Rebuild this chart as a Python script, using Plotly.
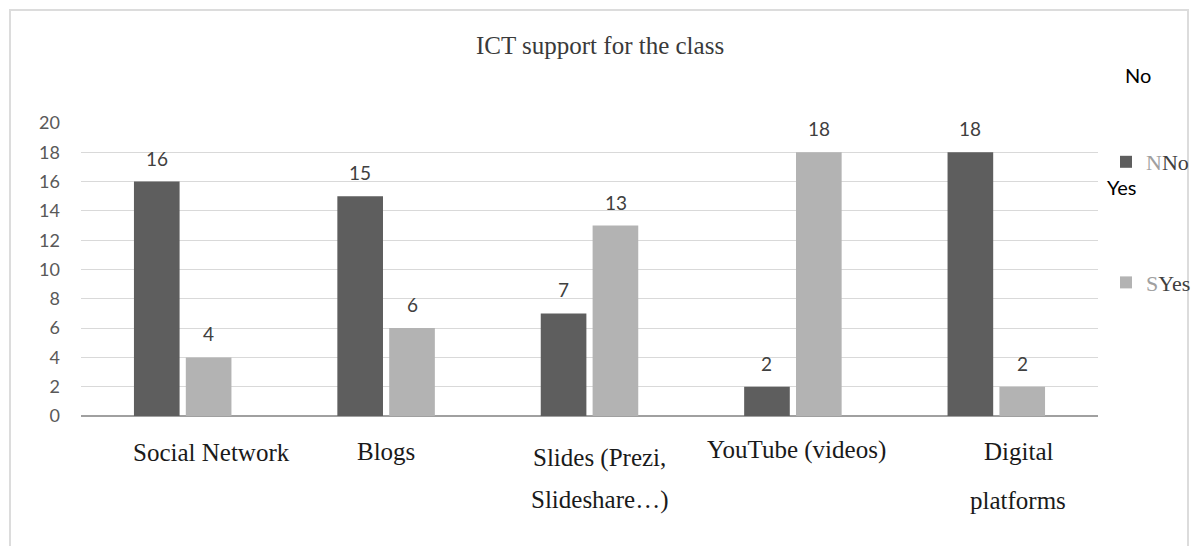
import plotly.graph_objects as go

categories = ["Social Network", "Blogs", "Slides (Prezi,\nSlideshare…)", "YouTube (videos)", "Digital\nplatforms"]
no_values = [16, 15, 7, 2, 18]
yes_values = [4, 6, 13, 18, 2]
series_names = ["No", "Yes"]
legend_prefix = ["N", "S"]
y_ticks = [0, 2, 4, 6, 8, 10, 12, 14, 16, 18, 20]
title_text = "ICT support for the class"

W, H = 1193, 546
ML, MR, MT, MB = 81, 95, 123, 130
PW = W - ML - MR
PH = H - MT - MB

def px(x):
    return (x - ML) / PW

def py(y):
    return (H - MB - y) / PH

dark = "#5e5e5e"
light = "#b3b3b3"
sans = "Lato, 'Open Sans', sans-serif"
serif = "'Liberation Serif', 'Times New Roman', serif"

# layout-only horizontal nudges for category labels (pixels)
label_xshift = [29, 0, 10, 4, 22]
label_line1_y = [452, 451, 458, 450, 451]

idx = list(range(len(categories)))
first_lines = [c.split("\n")[0] for c in categories]
second_lines = [c.split("\n")[1] if "\n" in c else "" for c in categories]

fig = go.Figure()
for name, pre, vals, col in [(series_names[0], legend_prefix[0], no_values, dark),
                              (series_names[1], legend_prefix[1], yes_values, light)]:
    fig.add_trace(go.Bar(
        x=idx, y=vals, marker=dict(color=col, line=dict(width=0)),
        name="<span style='color:#a0a0a0'>" + pre + "</span>" + name,
        legendgroup=name,
    ))

annotations = []
offset = 0.128
for vals, sgn in [(no_values, -1), (yes_values, 1)]:
    for i, v in enumerate(vals):
        annotations.append(dict(x=i + sgn * offset, y=v, xref="x", yref="y",
                                text=str(v), showarrow=False, yanchor="bottom",
                                yshift=10, font=dict(family=sans, size=19, color="#404040")))

for i in idx:
    annotations.append(dict(x=i, y=py(label_line1_y[i]), xref="x", yref="paper", text=first_lines[i],
                            xshift=label_xshift[i], showarrow=False, xanchor="center", yanchor="middle",
                            font=dict(family=serif, size=25, color="#1a1a1a")))
    if second_lines[i]:
        annotations.append(dict(x=i, y=py(500), xref="x", yref="paper", text=second_lines[i],
                                xshift=label_xshift[i], showarrow=False, xanchor="center", yanchor="middle",
                                font=dict(family=serif, size=25, color="#1a1a1a")))

annotations.append(dict(x=px(600), y=py(45), xref="paper", yref="paper", text=title_text,
                        showarrow=False, xanchor="center", yanchor="middle",
                        font=dict(family=serif, size=25, color="#3a3a3a")))
# floating series labels
annotations.append(dict(x=px(1123), y=py(75), xref="paper", yref="paper", text=series_names[0],
                        showarrow=False, xanchor="left", yanchor="middle",
                        font=dict(family=sans, size=20, color="#000000")))
annotations.append(dict(x=px(1105), y=py(187), xref="paper", yref="paper", text=series_names[1],
                        showarrow=False, xanchor="left", yanchor="middle",
                        font=dict(family=sans, size=20, color="#000000")))

fig.update_layout(
    width=W, height=H,
    margin=dict(l=ML, r=MR, t=MT, b=MB, autoexpand=False),
    paper_bgcolor="white", plot_bgcolor="white",
    barmode="group", bargap=0.49, bargroupgap=0.12,
    showlegend=True,
    legend=dict(x=px(1106), y=py(141), xanchor="left", yanchor="top",
                tracegroupgap=89, font=dict(family=serif, size=22, color="#404040"),
                itemwidth=30, bgcolor="rgba(0,0,0,0)"),
    annotations=annotations,
    shapes=[dict(type="rect", xref="paper", yref="paper",
                 x0=px(10), x1=px(1188), y0=py(560), y1=py(10),
                 line=dict(color="#dcdcdc", width=2), layer="below")],
    xaxis=dict(tickmode="array", tickvals=idx, ticktext=first_lines, showticklabels=False,
               range=[-0.5, len(categories) - 0.5],
               showgrid=False, zeroline=False, showline=False, ticks=""),
    yaxis=dict(range=[0, 20], tickvals=y_ticks, showgrid=True, gridcolor="#d9d9d9", gridwidth=1,
               zeroline=True, zerolinecolor="#a0a0a0", zerolinewidth=1.5,
               showline=False, ticks="", ticklabelstandoff=20,
               tickfont=dict(family=sans, size=18, color="#595959")),
)

fig.write_html("out.html", config={"displayModeBar": False},
               post_script="document.body.style.margin='0';document.body.style.overflow='hidden';")
